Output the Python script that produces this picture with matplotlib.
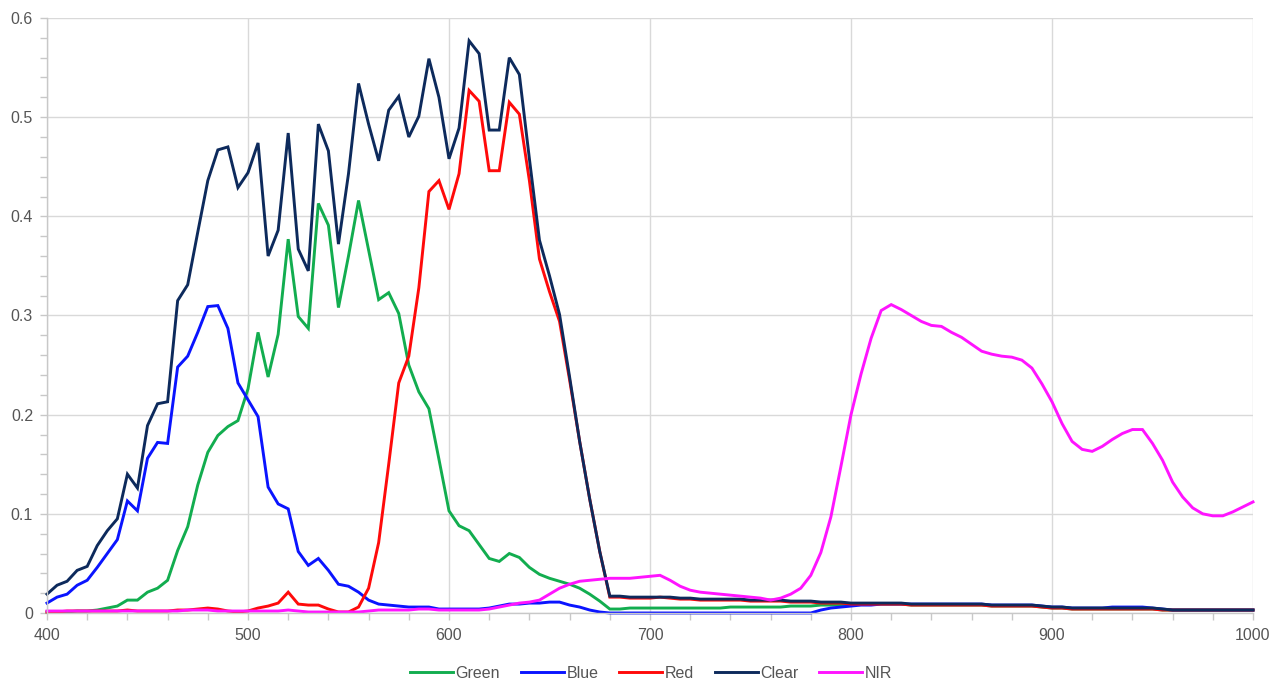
import matplotlib
matplotlib.use("Agg")
import matplotlib.pyplot as plt
from matplotlib.ticker import MultipleLocator, FuncFormatter

plt.rcParams['font.family'] = ['Liberation Sans', 'DejaVu Sans']

# wavelength in nm, sampled every 5 nm
wavelength = list(range(400, 1005, 5))

green = [
    0.001, 0.001, 0.001, 0.002, 0.002, 0.003, 0.005, 0.007, 0.013, 0.013,
    0.021, 0.025, 0.033, 0.063, 0.087, 0.129, 0.162, 0.179, 0.188, 0.194,
    0.226, 0.283, 0.238, 0.281, 0.377, 0.299, 0.287, 0.413, 0.391, 0.308,
    0.360, 0.416, 0.366, 0.316, 0.323, 0.302, 0.250, 0.223, 0.206, 0.155,
    0.103, 0.088, 0.083, 0.069, 0.055, 0.052, 0.060, 0.056, 0.046, 0.039,
    0.035, 0.032, 0.029, 0.025, 0.019, 0.012, 0.004, 0.004, 0.005, 0.005,
    0.005, 0.005, 0.005, 0.005, 0.005, 0.005, 0.005, 0.005, 0.006, 0.006,
    0.006, 0.006, 0.006, 0.006, 0.007, 0.007, 0.007, 0.008, 0.008, 0.008,
    0.009, 0.009, 0.009, 0.009, 0.009, 0.009, 0.008, 0.008, 0.008, 0.008,
    0.008, 0.008, 0.008, 0.008, 0.007, 0.007, 0.007, 0.007, 0.007, 0.006,
    0.005, 0.005, 0.004, 0.004, 0.004, 0.004, 0.004, 0.004, 0.004, 0.004,
    0.004, 0.003, 0.003, 0.003, 0.003, 0.003, 0.003, 0.003, 0.003, 0.003,
    0.003,
]

blue = [
    0.010, 0.016, 0.019, 0.028, 0.033, 0.046, 0.060, 0.074, 0.113, 0.103,
    0.156, 0.172, 0.171, 0.248, 0.259, 0.283, 0.309, 0.310, 0.287, 0.232,
    0.215, 0.198, 0.127, 0.110, 0.105, 0.062, 0.048, 0.055, 0.043, 0.029,
    0.027, 0.021, 0.013, 0.009, 0.008, 0.007, 0.006, 0.006, 0.006, 0.004,
    0.004, 0.004, 0.004, 0.004, 0.005, 0.007, 0.009, 0.009, 0.010, 0.010,
    0.011, 0.011, 0.008, 0.006, 0.003, 0.001, 0.000, 0.000, 0.000, 0.000,
    0.000, 0.000, 0.000, 0.000, 0.000, 0.000, 0.000, 0.000, 0.000, 0.000,
    0.000, 0.000, 0.000, 0.000, 0.000, 0.000, 0.000, 0.003, 0.005, 0.006,
    0.007, 0.008, 0.008, 0.009, 0.009, 0.009, 0.009, 0.009, 0.009, 0.009,
    0.009, 0.009, 0.009, 0.009, 0.008, 0.008, 0.008, 0.008, 0.008, 0.007,
    0.006, 0.006, 0.005, 0.005, 0.005, 0.005, 0.006, 0.006, 0.006, 0.006,
    0.005, 0.004, 0.003, 0.003, 0.003, 0.003, 0.003, 0.003, 0.003, 0.003,
    0.003,
]

red = [
    0.001, 0.001, 0.002, 0.002, 0.002, 0.002, 0.002, 0.002, 0.003, 0.002,
    0.002, 0.002, 0.002, 0.003, 0.003, 0.004, 0.005, 0.004, 0.002, 0.001,
    0.002, 0.005, 0.007, 0.010, 0.021, 0.009, 0.008, 0.008, 0.004, 0.001,
    0.001, 0.006, 0.025, 0.071, 0.150, 0.232, 0.259, 0.328, 0.425, 0.436,
    0.407, 0.443, 0.527, 0.516, 0.446, 0.446, 0.515, 0.503, 0.436, 0.357,
    0.324, 0.294, 0.235, 0.173, 0.115, 0.062, 0.016, 0.016, 0.015, 0.015,
    0.015, 0.016, 0.015, 0.014, 0.014, 0.013, 0.013, 0.013, 0.013, 0.013,
    0.012, 0.012, 0.012, 0.012, 0.011, 0.011, 0.011, 0.010, 0.010, 0.010,
    0.009, 0.009, 0.009, 0.009, 0.009, 0.009, 0.008, 0.008, 0.008, 0.008,
    0.008, 0.008, 0.008, 0.008, 0.007, 0.007, 0.007, 0.007, 0.007, 0.006,
    0.005, 0.005, 0.004, 0.004, 0.004, 0.004, 0.004, 0.004, 0.004, 0.004,
    0.004, 0.003, 0.003, 0.003, 0.003, 0.003, 0.003, 0.003, 0.003, 0.003,
    0.003,
]

clear = [
    0.019, 0.028, 0.032, 0.043, 0.047, 0.068, 0.083, 0.095, 0.140, 0.126,
    0.189, 0.211, 0.213, 0.315, 0.331, 0.384, 0.436, 0.467, 0.470, 0.429,
    0.444, 0.474, 0.360, 0.386, 0.484, 0.367, 0.345, 0.493, 0.466, 0.372,
    0.443, 0.534, 0.493, 0.456, 0.507, 0.521, 0.480, 0.501, 0.559, 0.520,
    0.458, 0.489, 0.577, 0.564, 0.487, 0.487, 0.560, 0.543, 0.458, 0.376,
    0.340, 0.301, 0.238, 0.173, 0.115, 0.062, 0.017, 0.017, 0.016, 0.016,
    0.016, 0.016, 0.016, 0.015, 0.015, 0.014, 0.014, 0.014, 0.014, 0.014,
    0.013, 0.013, 0.013, 0.013, 0.012, 0.012, 0.012, 0.011, 0.011, 0.011,
    0.010, 0.010, 0.010, 0.010, 0.010, 0.010, 0.009, 0.009, 0.009, 0.009,
    0.009, 0.009, 0.009, 0.009, 0.008, 0.008, 0.008, 0.008, 0.008, 0.007,
    0.006, 0.006, 0.005, 0.005, 0.005, 0.005, 0.005, 0.005, 0.005, 0.005,
    0.005, 0.004, 0.003, 0.003, 0.003, 0.003, 0.003, 0.003, 0.003, 0.003,
    0.003,
]

nir = [
    0.002, 0.002, 0.002, 0.002, 0.002, 0.002, 0.002, 0.002, 0.002, 0.002,
    0.002, 0.002, 0.002, 0.002, 0.003, 0.003, 0.003, 0.002, 0.002, 0.002,
    0.002, 0.002, 0.002, 0.002, 0.003, 0.002, 0.001, 0.001, 0.001, 0.001,
    0.001, 0.001, 0.002, 0.003, 0.003, 0.003, 0.003, 0.004, 0.004, 0.003,
    0.003, 0.003, 0.003, 0.003, 0.004, 0.006, 0.008, 0.010, 0.011, 0.013,
    0.019, 0.025, 0.029, 0.032, 0.033, 0.034, 0.035, 0.035, 0.035, 0.036,
    0.037, 0.038, 0.033, 0.027, 0.023, 0.021, 0.020, 0.019, 0.018, 0.017,
    0.016, 0.015, 0.013, 0.015, 0.019, 0.025, 0.038, 0.061, 0.097, 0.148,
    0.200, 0.241, 0.277, 0.305, 0.311, 0.306, 0.300, 0.294, 0.290, 0.289,
    0.283, 0.278, 0.271, 0.264, 0.261, 0.259, 0.258, 0.255, 0.247, 0.231,
    0.213, 0.191, 0.173, 0.165, 0.163, 0.168, 0.175, 0.181, 0.185, 0.185,
    0.171, 0.154, 0.132, 0.117, 0.106, 0.100, 0.098, 0.098, 0.102, 0.107,
    0.112,
]

series = [
    ("Green", green, "#12ad4f"),
    ("Blue", blue, "#0a14ff"),
    ("Red", red, "#ff0a0a"),
    ("Clear", clear, "#0d2a5c"),
    ("NIR", nir, "#ff14ff"),
]

fig = plt.figure(figsize=(12.84, 6.82), dpi=100)
ax = fig.add_axes([47 / 1284, 1 - 613 / 682, (1253 - 47) / 1284, (613 - 18) / 682])

for name, values, color in series:
    ax.plot(wavelength, values, color=color, lw=2.1, label=name,
            solid_joinstyle="miter", clip_on=False)

ax.set_xlim(400, 1000)
ax.set_ylim(0, 0.6)
ax.xaxis.set_major_locator(MultipleLocator(100))
ax.xaxis.set_minor_locator(MultipleLocator(20))
ax.yaxis.set_major_locator(MultipleLocator(0.1))
ax.yaxis.set_minor_locator(MultipleLocator(0.02))
ax.yaxis.set_major_formatter(FuncFormatter(lambda v, _: "0" if abs(v) < 1e-9 else f"{v:.1f}"))

ax.grid(True, which="major", color="#d9d9d9", lw=1)
ax.set_axisbelow(True)
for side in ["top", "right"]:
    ax.spines[side].set_visible(False)
for side in ["left", "bottom"]:
    ax.spines[side].set_color("#c8c8c8")
    ax.spines[side].set_linewidth(1)

ax.tick_params(which="both", colors="#c8c8c8", labelcolor="#555555",
               labelsize=11.5, length=5, width=1)
ax.tick_params(axis="x", pad=6)
ax.tick_params(axis="y", pad=5)

fig.legend(loc="center", bbox_to_anchor=(0.507, 1 - 673 / 682), ncol=5,
           frameon=False, fontsize=11.5, labelcolor="#555555",
           handlelength=2.7, handletextpad=0.15, columnspacing=1.3)

fig.savefig("out.png", dpi=100, facecolor="white")
